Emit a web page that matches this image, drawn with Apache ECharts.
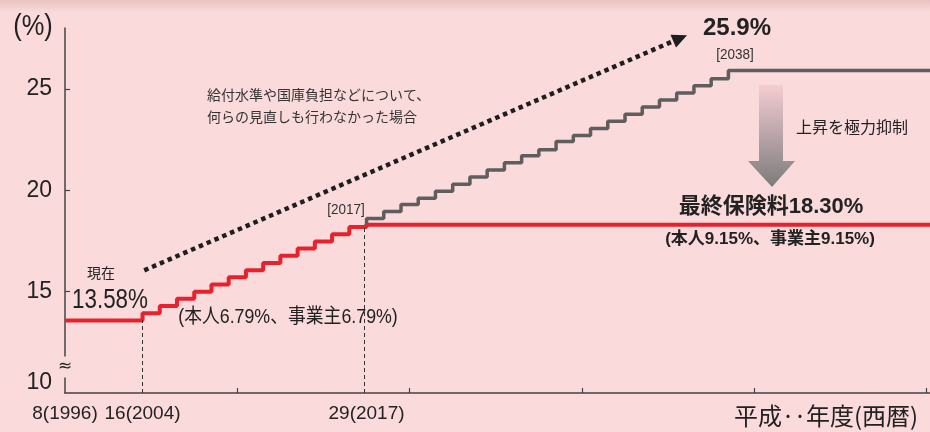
<!DOCTYPE html>
<html>
<head>
<meta charset="utf-8">
<script src="https://cdn.jsdelivr.net/npm/echarts@6/dist/echarts.min.js"></script>
<style>
    html, body { margin: 0; padding: 0; background: #fadadb; }
    #chart { width: 930px; height: 432px; }
</style>
</head>
<body>
<div id="chart"></div>
<script>
// The x axis is broken: 1996 sits at the left end, then years run linearly from 2004
const xStart = 1999.5;
const xEnd = 2049.7;

const xLabelYears = [1996, 2004, 2017];
const xLabelTexts = ["8(1996)", "16(2004)", "29(2017)"];
const xTickYears = [2009.5, 2019.5, 2029.5, 2039.5, 2049.5];
const yLabelValues = [10, 15, 20, 25];
const yTickValues = [15, 20, 25];

// premium rate as scheduled (%)
const redYears = [1996, 2004, 2005, 2006, 2007, 2008, 2009, 2010, 2011, 2012, 2013, 2014, 2015, 2016, 2017, 2050];
const redRates = [13.58, 13.934, 14.288, 14.642, 14.996, 15.35, 15.704, 16.058, 16.412, 16.766, 17.12, 17.474, 17.828, 18.182, 18.3, 18.3];

// rate if nothing had been reviewed (%)
const greyYears = [2017, 2017, 2018, 2019, 2020, 2021, 2022, 2023, 2024, 2025, 2026, 2027, 2028,
    2029, 2030, 2031, 2032, 2033, 2034, 2035, 2036, 2037, 2038, 2050];
const greyRates = [18.3, 18.6, 18.95, 19.3, 19.6, 19.95, 20.3, 20.65, 21.0, 21.35, 21.7, 22.0, 22.4,
    22.7, 23.05, 23.4, 23.75, 24.1, 24.45, 24.8, 25.15, 25.5, 25.9, 25.9];

// dashed guides down to the axis
const guideYears = [2004, 2016.85];
const guideTops = [13.58, 18.3];

// dotted trend arrow (data space)
const trendFrom = [2004.1, 16.05];
const trendTo = [2035.2, 27.5];

const SANS = "'Liberation Sans', 'Noto Sans CJK JP', sans-serif";
const JP = "'Noto Sans CJK JP', sans-serif";
const BG = "#fadadb";
const INK = "#222";

function toAxis(year) {
    if (year >= 2004) return year;
    return xStart + (year - 1996) * (2004 - xStart) / 8;
}

function pairs(xs, ys) {
    return xs.map((x, i) => [toAxis(x), ys[i]]);
}

// annotation text; sx squeezes it sideways to mimic the condensed face
function txt(x, y, text, size, family, extra, sx) {
    return {
        type: "text", x: x, y: y, z: 50, scaleX: sx || 1,
        style: Object.assign({
            text: text, fontSize: size, fontFamily: family, fill: INK,
            align: "center", verticalAlign: "middle"
        }, extra || {})
    };
}

const chart = echarts.init(document.getElementById("chart"), null, { renderer: "canvas" });

chart.setOption({
    backgroundColor: BG,
    animation: false,
    grid: { left: 65, right: 0, top: 28, bottom: 39, outerBoundsMode: "none" },
    xAxis: {
        type: "value", min: xStart, max: xEnd,
        splitLine: { show: false },
        axisLine: { onZero: false, lineStyle: { color: "#444", width: 1.5 } },
        axisTick: { inside: true, length: 5, customValues: xTickYears, lineStyle: { color: "#444", width: 1.2 } },
        axisLabel: {
            customValues: xLabelYears.map(toAxis),
            showMinLabel: true, hideOverlap: false,
            formatter: function (v) {
                const i = xLabelYears.findIndex(y => Math.abs(toAxis(y) - v) < 0.01);
                return i >= 0 ? xLabelTexts[i] : "";
            },
            color: INK, fontSize: 19, fontFamily: SANS, margin: 11
        }
    },
    yAxis: {
        type: "value", min: 10, max: 28,
        splitLine: { show: false },
        axisLine: { show: true, onZero: false, lineStyle: { color: "#444", width: 1.5 } },
        axisTick: { show: true, inside: true, length: 5, customValues: yTickValues, lineStyle: { color: "#444", width: 1.2 } },
        axisLabel: {
            customValues: yLabelValues,
            formatter: v => v === 10 ? "10\n " : String(v),
            lineHeight: 20,
            color: INK, fontSize: 23, fontFamily: SANS, margin: 13
        }
    },
    series: [
        {
            name: "no review",
            type: "line", step: "end", showSymbol: false, z: 3,
            data: pairs(greyYears, greyRates),
            lineStyle: { color: "#5e5e5e", width: 3.5 },
            markLine: {
                silent: true, symbol: ["none", "triangle"], symbolSize: [14, 15],
                label: { show: false },
                lineStyle: { color: "#1e1e1e", width: 4.5, type: [4.5, 4], cap: "butt" },
                data: [[{ coord: trendFrom }, { coord: trendTo }]]
            }
        },
        {
            name: "scheduled",
            type: "line", step: "end", showSymbol: false, z: 4,
            data: pairs(redYears, redRates),
            lineStyle: { color: "#e8222c", width: 4 },
            markLine: {
                silent: true, symbol: "none",
                label: { show: false },
                lineStyle: { color: "#333", width: 1, type: [4, 3] },
                data: guideYears.map((y, i) => [{ coord: [y, 10] }, { coord: [y, guideTops[i]] }])
            }
        }
    ],
    graphic: [
        {
            type: "rect", z: 0, silent: true,
            shape: { x: 0, y: 0, width: 930, height: 12 },
            style: {
                fill: new echarts.graphic.LinearGradient(0, 0, 0, 1, [
                    { offset: 0, color: "rgba(215,165,165,0.45)" },
                    { offset: 1, color: "rgba(215,165,165,0)" }
                ])
            }
        },
        {
            type: "polygon", z: 40, silent: true,
            shape: { points: [[759, 85], [783, 85], [783, 161], [795, 161], [772, 187], [748, 161], [759, 161]] },
            style: {
                fill: new echarts.graphic.LinearGradient(0, 0, 0, 1, [
                    { offset: 0, color: "#f4cdd1" },
                    { offset: 0.5, color: "#b8a4a8" },
                    { offset: 1, color: "#7c7c7c" }
                ])
            }
        },
        txt(65, 367, "≈", 17, "'DejaVu Sans', sans-serif", { backgroundColor: BG, padding: [2, 0, 2, 0] }),
        txt(33, 27, "(%)", 30, SANS, null, 0.85),
        txt(101, 273, "現在", 14, JP),
        txt(110, 300, "13.58%", 28, SANS, null, 0.8),
        txt(288, 317, "(本人6.79%、事業主6.79%)", 20, SANS, null, 0.89),
        txt(207, 95, "給付水準や国庫負担などについて、", 14, JP, { align: "left", fill: "#333" }),
        txt(207, 117, "何らの見直しも行わなかった場合", 14, JP, { align: "left", fill: "#333" }),
        txt(346, 210, "[2017]", 15, SANS, { fill: "#333" }, 0.9),
        txt(737, 28, "25.9%", 24, SANS, { fontWeight: "bold" }),
        txt(735, 55, "[2038]", 15, SANS, { fill: "#333" }, 0.9),
        txt(852, 127, "上昇を極力抑制", 16, JP),
        txt(771, 207, "最終保険料18.30%", 22, SANS, { fontWeight: "bold" }),
        txt(770, 239, "(本人9.15%、事業主9.15%)", 17, SANS, { fontWeight: "bold" }),
        txt(826, 416, "平成‥年度(西暦)", 24, JP)
    ]
});
</script>
</body>
</html>
